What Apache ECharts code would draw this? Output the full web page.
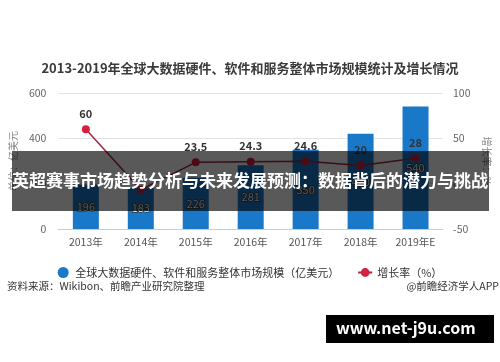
<!DOCTYPE html>
<html>
<head>
<meta charset="utf-8">
<script src="https://cdn.jsdelivr.net/npm/echarts@6/dist/echarts.min.js"></script>
<style>
html,body{margin:0;padding:0;background:#fff;}
#c{width:500px;height:362px;}
</style>
</head>
<body>
<div id="c"></div>
<script>
var categories = ['2013年','2014年','2015年','2016年','2017年','2018年','2019年E'];
var marketSize = [196, 183, 226, 281, 350, 420, 540];
var growthRate = [60, -6.6, 23.5, 24.3, 24.6, 20, 28];
var leftTicks = {min: 0, max: 600, interval: 200};
var rightTicks = {min: -50, max: 100, interval: 50};

var FONT = '"Noto Sans CJK SC", "Noto Sans", sans-serif';
var chart = echarts.init(document.getElementById('c'), null, {renderer: 'canvas'});
chart.setOption({
  animation: false,
  backgroundColor: '#fff',
  textStyle: {fontFamily: FONT},
  title: {
    text: '2013-2019年全球大数据硬件、软件和服务整体市场规模统计及增长情况',
    left: 'center', top: 57,
    textStyle: {fontSize: 13, fontWeight: 'bold', color: '#3a3a3a', fontFamily: FONT}
  },
  grid: {left: 56, right: 57, top: 93, bottom: 133},
  legend: {
    top: 262, left: 'center', itemGap: 18, itemWidth: 14, itemHeight: 11,
    textStyle: {fontSize: 11, color: '#333', fontFamily: FONT},
    data: [
      {name: '全球大数据硬件、软件和服务整体市场规模（亿美元）', icon: 'circle'},
      {name: '增长率（%）'}
    ]
  },
  xAxis: {
    type: 'category', data: categories,
    axisLine: {lineStyle: {color: '#ccc'}},
    axisTick: {show: false},
    axisLabel: {color: '#555', fontSize: 10.5, margin: 8}
  },
  yAxis: [
    {
      type: 'value', min: leftTicks.min, max: leftTicks.max, interval: leftTicks.interval,
      name: '单位：亿美元', nameLocation: 'middle', nameGap: 30, nameRotate: 90,
      nameTextStyle: {color: '#888', fontSize: 10},
      axisLine: {show: false}, axisTick: {show: false},
      axisLabel: {color: '#666', fontSize: 10.5, margin: 12},
      splitLine: {lineStyle: {color: '#e3e3e3'}}
    },
    {
      type: 'value', min: rightTicks.min, max: rightTicks.max, interval: rightTicks.interval,
      name: '增长率：%', nameLocation: 'middle', nameGap: 30, nameRotate: -90,
      nameTextStyle: {color: '#888', fontSize: 10},
      axisLine: {show: false}, axisTick: {show: false},
      axisLabel: {color: '#666', fontSize: 10.5, margin: 10},
      splitLine: {show: false}
    }
  ],
  series: [
    {
      name: '全球大数据硬件、软件和服务整体市场规模（亿美元）',
      type: 'bar', data: marketSize, barWidth: 26, yAxisIndex: 0,
      itemStyle: {color: '#1a78c8'},
      label: {show: true, position: 'inside', color: '#f2f2f2', fontSize: 11,
        textBorderColor: '#333', textBorderWidth: 1.5}
    },
    {
      name: '增长率（%）',
      type: 'line', data: growthRate, yAxisIndex: 1,
      symbol: 'circle', symbolSize: 8,
      lineStyle: {color: '#a3263a', width: 1.5},
      itemStyle: {color: '#d4213d'},
      label: {show: true, position: 'top', color: '#333', fontSize: 11, fontWeight: 'bold', distance: 6,
        formatter: function(p){ return p.dataIndex === 1 ? '' : p.value; }}
    }
  ],
  graphic: [
    {type: 'rect', left: 12, top: 151, shape: {width: 477, height: 60},
      style: {fill: 'rgba(0,0,0,0.65)'}, z: 100},
    {type: 'text', left: 'center', top: 172, z: 101,
      style: {text: '英超赛事市场趋势分析与未来发展预测：数据背后的潜力与挑战',
        fill: '#fff', font: 'bold 17px ' + FONT}},
    {type: 'text', left: 7, top: 281, z: 10,
      style: {text: '资料来源：Wikibon、前瞻产业研究院整理', fill: '#333', font: '10.5px ' + FONT}},
    {type: 'text', right: 1, top: 281, z: 10,
      style: {text: '@前瞻经济学人APP', fill: '#333', font: '10.5px ' + FONT}},
    {type: 'rect', left: 326, top: 315, shape: {width: 168, height: 28},
      style: {fill: '#000'}, z: 100},
    {type: 'text', left: 336, top: 320, z: 101,
      style: {text: 'www.net-j9u.com', fill: '#fff', font: 'bold 16px ' + FONT}}
  ]
});
</script>
</body>
</html>
